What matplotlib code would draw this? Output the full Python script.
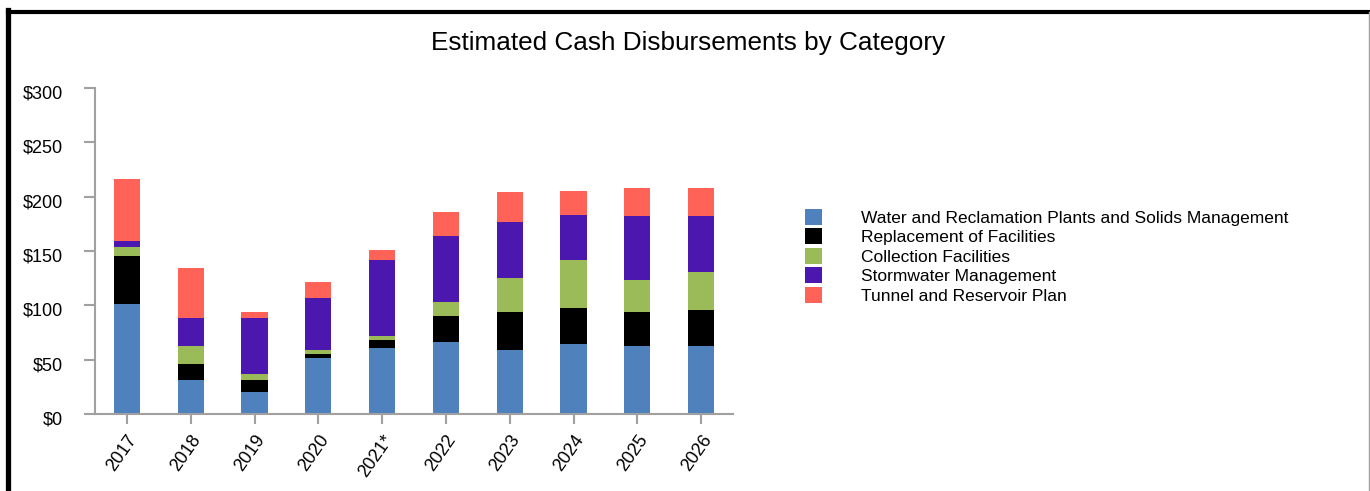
import matplotlib
matplotlib.use("Agg")
import matplotlib.pyplot as plt
import matplotlib.transforms as mtransforms
from matplotlib.lines import Line2D
from matplotlib.patches import Patch

plt.rcParams['font.family'] = ['Liberation Sans', 'DejaVu Sans']

years = ["2017", "2018", "2019", "2020", "2021*", "2022", "2023", "2024", "2025", "2026"]
water_reclamation = [101, 31, 20, 51.5, 61, 66, 59, 64.5, 62.5, 62.5]
replacement = [44, 15, 11, 3.7, 7, 24, 35, 33, 31, 33]
collection = [9, 16.5, 5.5, 3.7, 3.7, 13, 31, 44, 29.5, 35]
stormwater = [5.5, 26, 51.5, 48, 70, 61, 51.5, 42, 59, 51.5]
tarp = [57, 46, 5.5, 15, 9, 22, 27.5, 22, 26, 26]

series_names = ["Water and Reclamation Plants and Solids Management",
                "Replacement of Facilities",
                "Collection Facilities",
                "Stormwater Management",
                "Tunnel and Reservoir Plan"]
series = [water_reclamation, replacement, collection, stormwater, tarp]
colors = ["#4F81BD", "#000000", "#9BBB59", "#4B17AE", "#FF6257"]
yticks = [0, 50, 100, 150, 200, 250, 300]

W, H = 1370, 491
fig = plt.figure(figsize=(W / 100, H / 100), dpi=100)
ax = fig.add_axes([95 / W, (H - 414) / H, (733 - 95) / W, (414 - 88) / H])

x = list(range(len(years)))
bottom = [0] * len(years)
for vals, col in zip(series, colors):
    ax.bar(x, vals, width=0.41, bottom=bottom, color=col, linewidth=0)
    bottom = [b + v for b, v in zip(bottom, vals)]

ax.set_xlim(-0.5, len(years) - 0.5)
ax.set_ylim(0, 300)
ax.set_yticks(yticks)
ax.set_yticklabels([f"${v}" for v in yticks], fontsize=13)
ax.set_xticks(x)
ax.set_xticklabels(years, rotation=55, ha='right', rotation_mode='anchor', fontsize=13)

for s in ['top', 'right']:
    ax.spines[s].set_visible(False)
for s in ['left', 'bottom']:
    ax.spines[s].set_color('#A0A0A0')
    ax.spines[s].set_linewidth(1.5)
ax.tick_params(axis='y', length=8, width=1.5, color='#A0A0A0', pad=15)
ax.tick_params(axis='x', length=7.5, width=1.5, color='#A0A0A0', pad=5)

# y tick labels sit slightly below their ticks in the reference
offset = mtransforms.ScaledTranslation(0, -4 / 100, fig.dpi_scale_trans)
for lbl in ax.get_yticklabels():
    lbl.set_transform(lbl.get_transform() + offset)

fig.text(688 / W, 1 - 43 / H, "Estimated Cash Disbursements by Category",
         ha='center', va='center', fontsize=18.8)

handles = [Patch(facecolor=c, edgecolor='none') for c in colors]
fig.legend(handles, series_names, loc='upper left',
           bbox_to_anchor=(805 / W, 1 - 209 / H), frameon=False,
           fontsize=12.5, handlelength=1.0, handleheight=1.0,
           handletextpad=2.2, labelspacing=0.16, borderpad=0, borderaxespad=0)

# frame of the screenshot
fig.add_artist(Line2D([7.5 / W, 7.5 / W], [0, 1 - 10 / H], color='black', lw=3.8,
                      transform=fig.transFigure, solid_capstyle='projecting'))
fig.add_artist(Line2D([7.5 / W, 1], [1 - 12 / H, 1 - 12 / H], color='black', lw=3.0,
                      transform=fig.transFigure))
fig.add_artist(Line2D([1 - 1 / W, 1 - 1 / W], [0, 1 - 12 / H], color='#A0A0A0', lw=1.0,
                      transform=fig.transFigure))

fig.savefig("out.png", dpi=100)
